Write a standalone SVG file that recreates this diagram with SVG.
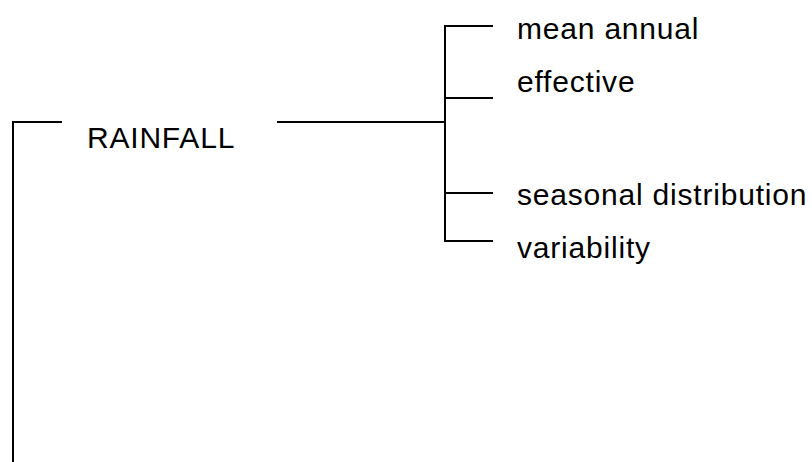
<svg xmlns="http://www.w3.org/2000/svg" width="812" height="462" viewBox="0 0 812 462">
<style>
.c{stroke:#000;stroke-width:2;fill:none}
.t{font-family:"Liberation Sans",Arial,sans-serif;font-size:30px;letter-spacing:0.8px;fill:#000}
</style>
<rect width="812" height="462" fill="#fff"/>
<g id="connectors">
<polyline class="c" points="62,122 13,122 13,462"/>
<line class="c" x1="277" y1="122" x2="445" y2="122"/>
<line class="c" x1="445" y1="26" x2="445" y2="241"/>
<line class="c" x1="444" y1="26" x2="493" y2="26"/>
<line class="c" x1="445" y1="98" x2="493" y2="98"/>
<line class="c" x1="445" y1="193" x2="493" y2="193"/>
<line class="c" x1="444" y1="241" x2="493" y2="241"/>
</g>
<g id="rainfall"><text class="t" x="87" y="148">RAINFALL</text></g>
<g id="mean-annual"><text class="t" x="517" y="39">mean annual</text></g>
<g id="effective"><text class="t" x="517" y="92">effective</text></g>
<g id="seasonal-distribution"><text class="t" x="517" y="205">seasonal distribution</text></g>
<g id="variability"><text class="t" x="517" y="258">variability</text></g>
</svg>
